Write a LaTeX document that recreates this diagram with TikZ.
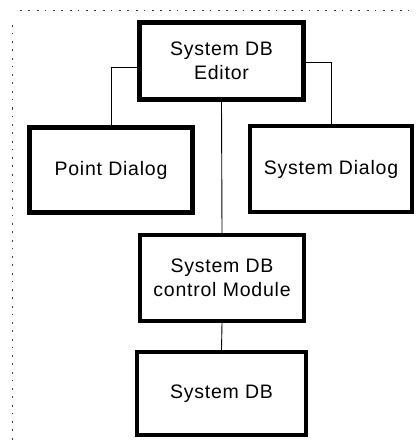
\documentclass[tikz,border=0pt]{standalone}
\usepackage{fontspec}
\setmainfont{Liberation Sans}[LetterSpace=4]
\begin{document}
\begin{tikzpicture}[x=1pt,y=-1pt,
  block/.style={draw=black,line width=4.2pt,inner sep=0pt,align=center,
    font=\fontsize{19.5}{24}\selectfont},
  link/.style={draw=black,line width=0.9pt},
  frame/.style={draw=black!75,line width=0.9pt,dash pattern=on 2pt off 6pt on 1.5pt off 7pt}]
\useasboundingbox (0,0) rectangle (416,441);
% module boxes
\node[block,minimum width=164pt,minimum height=77pt] (ed) at (221.5,61) {System DB\\Editor};
\node[block,minimum width=163pt,minimum height=85pt] (pd) at (111,170) {Point Dialog};
\node[block,minimum width=162pt,minimum height=86pt] (sd) at (331,169) {System Dialog};
\node[block,minimum width=164pt,minimum height=86pt] (cm) at (222,278) {System DB\\control Module};
\node[block,minimum width=169pt,minimum height=83pt] (db) at (221.5,393.5) {System DB};
% connections
\draw[link] ([yshift=-6pt]ed.west) -| (pd.north);
\draw[link] ([yshift=-1pt]ed.east) -| (sd.north);
\draw[link] (ed.south) -- (cm.north);
\draw[link] (cm.south) -- (db.north);
% faint dotted frame
\coordinate (t0) at (20,10);
\coordinate (t1) at (410,10);
\coordinate (l0) at (12,25);
\coordinate (l1) at (12,441);
\draw[frame] (t0) -- (t1);
\draw[frame] (l0) -- (l1);
\end{tikzpicture}
\end{document}
